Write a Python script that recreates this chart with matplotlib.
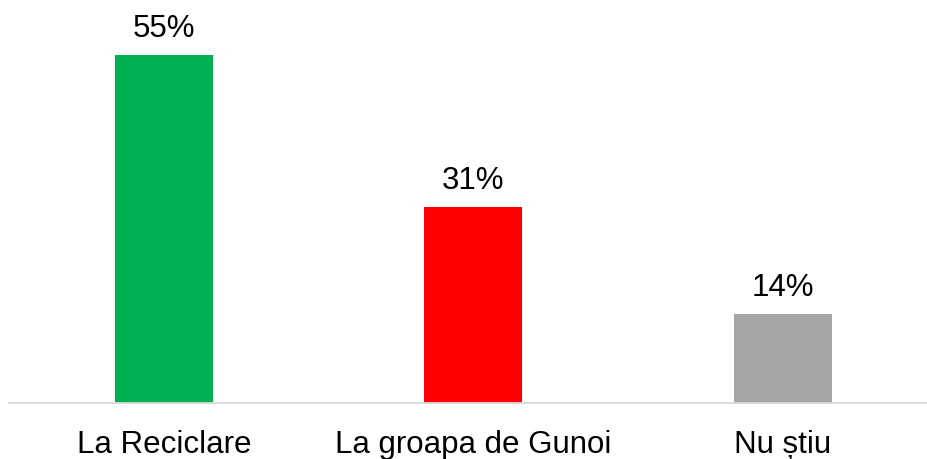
import matplotlib
matplotlib.use("Agg")
import matplotlib.pyplot as plt

categories = ["La Reciclare", "La groapa de Gunoi", "Nu știu"]
values = [55, 31, 14]
colors = ["#00B050", "#FF0000", "#A5A5A5"]

plt.rcParams['font.family'] = ['Liberation Sans', 'DejaVu Sans']

W, H = 927, 459
fig = plt.figure(figsize=(W / 100, H / 100), dpi=100)
left_px, base_px = 9, 403
ax = fig.add_axes([left_px / W, (H - base_px) / H, (W - left_px) / W, base_px / H])

x = list(range(len(categories)))
bars = ax.bar(x, values, width=0.316, color=colors)
ax.set_xlim(-0.5, 2.465)
ax.set_ylim(0, base_px / 6.33)

for rect, v in zip(bars, values):
    ax.annotate(f"{v}%", (rect.get_x() + rect.get_width() / 2, rect.get_height()),
                xytext=(0, 13), textcoords="offset points",
                ha="center", va="baseline", fontsize=22.5, color="black")

ax.set_xticks(x)
ax.set_xticklabels(categories, fontsize=22.5)
ax.tick_params(axis="x", length=0, pad=19.5)
ax.set_yticks([])
for s in ["top", "left", "right"]:
    ax.spines[s].set_visible(False)
ax.spines["bottom"].set_color("#D9D9D9")
ax.spines["bottom"].set_linewidth(1.3)
ax.patch.set_alpha(0)

fig.savefig("out.png", dpi=100)
